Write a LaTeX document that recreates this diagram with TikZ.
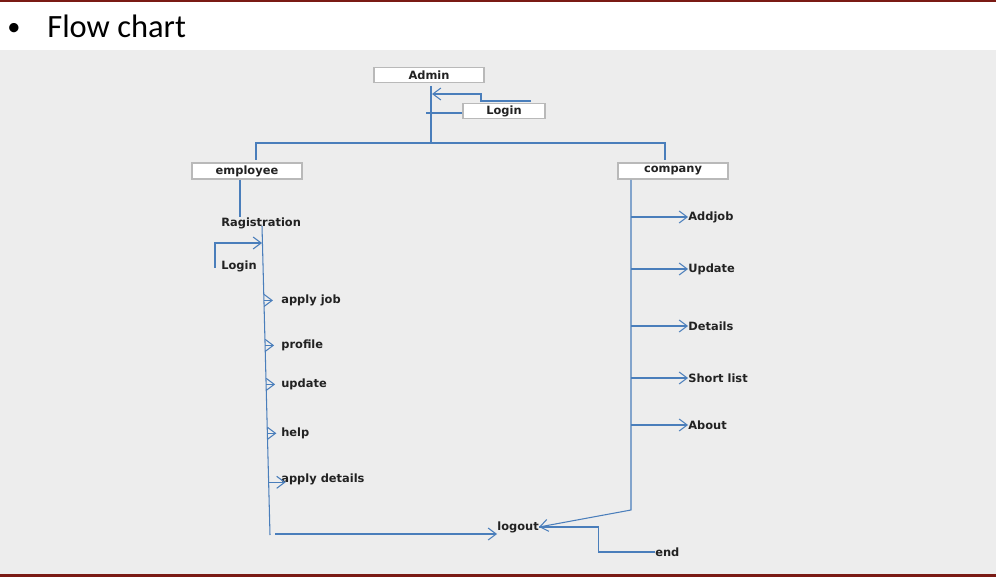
\documentclass[tikz,border=0pt]{standalone}
\usepackage{fontspec}
\setmainfont{DejaVu Sans}
\newfontfamily\titlefont{Carlito}
\usetikzlibrary{arrows.meta,positioning,calc}
\definecolor{flowblue}{HTML}{4A7EBB}
\definecolor{panelgray}{HTML}{EDEDED}
\definecolor{rulered}{HTML}{7A1A14}
\definecolor{inkgray}{HTML}{222222}

\begin{document}
\begin{tikzpicture}[x=0.02cm, y=-0.02cm, >={Straight Barb[length=1.6mm,width=2.4mm]},
  flow/.style={draw=flowblue, line width=0.6pt},
  box/.style={draw=gray!55, fill=white, line width=0.6pt, inner sep=0pt, minimum height=0.29cm,
    text=inkgray, font=\bfseries\fontsize{6.5}{8}\selectfont},
  lbl/.style={anchor=west, inner sep=0pt, text=inkgray, font=\bfseries\fontsize{6.5}{8}\selectfont}]
\path[use as bounding box] (0,0) rectangle (996,577);
% slide background
\fill[panelgray] (0,50) rectangle (996,575);
\draw[rulered, line width=1.4pt] (0,1) -- (996,1);
\draw[rulered, line width=1.4pt] (0,575.5) -- (996,575.5);
\node[anchor=base, inner sep=0pt, font=\titlefont\fontsize{15}{18}\selectfont] (bullet) at (14,36) {•};
\node[anchor=base west, inner sep=0pt, font=\titlefont\fontsize{18.5}{22}\selectfont] (title) at (47,38) {Flow chart};

% top boxes
\node[box, minimum width=2.2cm] (admin) at (429,75) {Admin};
\node[box, minimum width=1.64cm] (login) at (504,111) {Login};
\node[box, minimum width=2.2cm, minimum height=0.32cm] (employee) at (247,171) {employee};
\node[box, minimum width=2.2cm, minimum height=0.32cm] (company) at (673,171) {company};

\coordinate (atop) at (431,86);
\coordinate (hub) at (431,143);
\coordinate (aarr) at (432,94);
\coordinate (lin) at (531,101);
\coordinate (etop) at (256,160);
\coordinate (ctop) at (665,160);
\draw[flow] (atop) -- (hub);
\draw[flow, ->] (lin) -- ++(-50,0) |- (aarr);
\draw[flow] (login.west) ++(0,2) -- ++(-36,0);
\draw[flow] (etop) |- (hub) -| (ctop);

% employee side
\node[lbl] (ragist) at (221,223) {Ragistration};
\node[lbl] (elogin) at (221,266) {Login};
\coordinate (edown) at (240,180);
\coordinate (spt) at (262,226);
\coordinate (spb) at (270,535);
\coordinate (sp1) at (262,243);
\coordinate (elin) at (215,268);
\draw[flow] (edown) -- (ragist.north -| edown);
\draw[flow] (spt) -- (spb);
\draw[flow, ->] (elin) |- (sp1);
\foreach \n/\y/\t in {applyjob/300/apply job, profile/345/profile, eupdate/384/update, help/433/help}{
  \node[lbl] (\n) at (281,\y) {\t};
  \draw[flow, ->] ($(spt)!(\n.west)!(spb)$) -- ++(9,0);
}
\node[lbl] (applydet) at (281,479) {apply details};
\draw[flow, ->] ($(spt)!(applydet.west)!(spb)$) ++(0,3) -- ++(17,0);

% company side
\coordinate (cdown) at (631,180);
\coordinate (cbot) at (631,510);
\foreach \n/\y/\t in {addjob/217/Addjob, cupdate/269/Update, details/326/Details, shortlist/378/Short list, about/425/About}{
  \node[lbl] (\n) at (688,\y) {\t};
  \draw[flow, ->] (cdown |- \n.west) -- (\n.west);
}

% logout and end
\node[lbl] (logout) at (497,527) {logout};
\node[lbl] (endn) at (655,552) {end};
\coordinate (bstart) at (275,534);
\draw[flow, ->] (bstart) -- (bstart -| logout.west);
\draw[flow, ->] (cdown) -- (cbot) -- (logout.east);
\draw[flow] (logout.east) -- ++(59,0) |- (endn.west);
\end{tikzpicture}
\end{document}
